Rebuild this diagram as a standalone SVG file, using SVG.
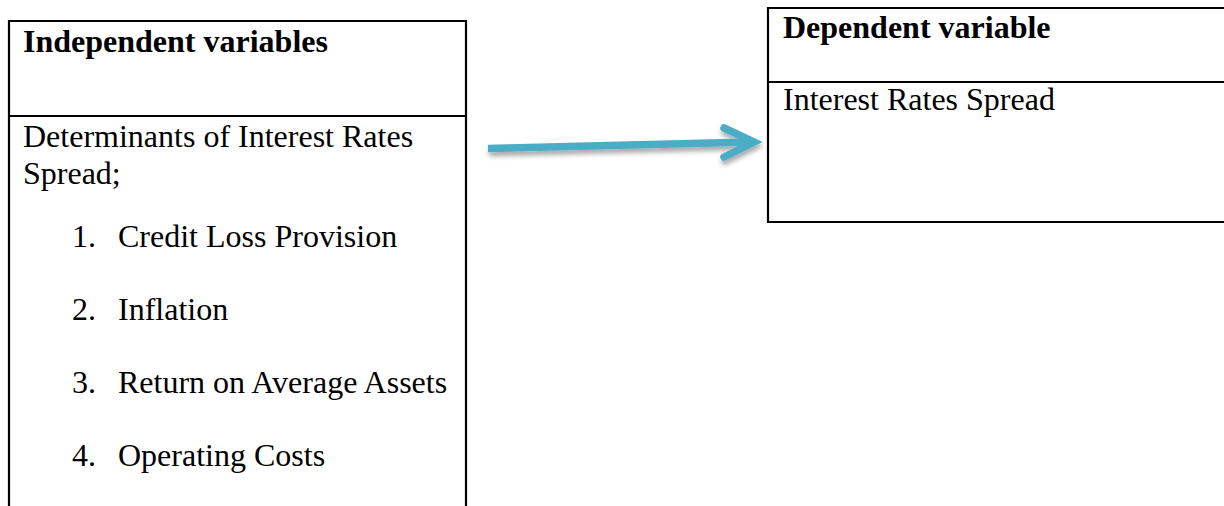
<svg xmlns="http://www.w3.org/2000/svg" width="1224" height="506" viewBox="0 0 1224 506">
  <style>
    .box { fill: none; stroke: #000; stroke-width: 2.2; }
    .t { font-family: "Liberation Serif", "Times New Roman", serif; font-size: 32px; fill: #000; }
    .b { font-weight: bold; }
    .arrow { fill: none; stroke: #4BACC6; stroke-width: 7.5; }
  </style>
  <defs>
    <filter id="shadow" x="-10%" y="-50%" width="120%" height="200%">
      <feDropShadow dx="1" dy="4" stdDeviation="2.5" flood-color="#000" flood-opacity="0.35"/>
    </filter>
  </defs>

  <rect width="1224" height="506" fill="#fff"/>

  <g id="independent">
    <path class="box" d="M9,510 V21 H466 V510"/>
    <line class="box" x1="9" y1="116" x2="466" y2="116"/>
    <text class="t b" x="23" y="52">Independent variables</text>
    <text class="t" x="23" y="147">Determinants of Interest Rates</text>
    <text class="t" x="23" y="184">Spread;</text>
    <text class="t" x="72" y="247">1.</text>
    <text class="t" x="118" y="247">Credit Loss Provision</text>
    <text class="t" x="72" y="320">2.</text>
    <text class="t" x="118" y="320">Inflation</text>
    <text class="t" x="72" y="393">3.</text>
    <text class="t" x="118" y="393">Return on Average Assets</text>
    <text class="t" x="72" y="466">4.</text>
    <text class="t" x="118" y="466">Operating Costs</text>
  </g>

  <g id="dependent">
    <path class="box" d="M1230,8 H768 V222 H1230"/>
    <line class="box" x1="768" y1="82" x2="1230" y2="82"/>
    <text class="t b" x="783" y="38">Dependent variable</text>
    <text class="t" x="783" y="110">Interest Rates Spread</text>
  </g>

  <g id="connectors" filter="url(#shadow)">
    <line class="arrow" x1="488" y1="148.5" x2="752" y2="142" stroke-linecap="butt"/>
    <polyline class="arrow" points="724,128 754,142 724,157" stroke-linecap="round" stroke-linejoin="miter"/>
  </g>
</svg>
